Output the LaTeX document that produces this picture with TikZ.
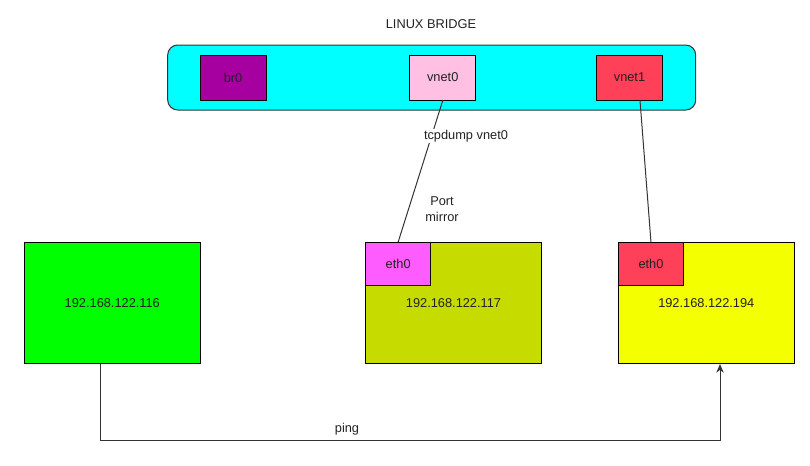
\documentclass[tikz,border=0pt]{standalone}
\usepackage{fontspec}
\setmainfont{Liberation Sans}
\usetikzlibrary{arrows.meta,calc}
\definecolor{cbridge}{RGB}{0,255,255}
\definecolor{cbr}{RGB}{166,0,160}
\definecolor{cvnetz}{RGB}{255,192,227}
\definecolor{cred}{RGB}{255,64,88}
\definecolor{cgreen}{RGB}{0,255,0}
\definecolor{colive}{RGB}{198,220,0}
\definecolor{cpink}{RGB}{255,92,255}
\definecolor{cyellow}{RGB}{244,255,0}
\definecolor{ctext}{HTML}{222222}
\definecolor{cline}{HTML}{333333}
\tikzset{
  every node/.style={font=\fontsize{9.6pt}{11.5pt}\selectfont, text=ctext},
  boxstyle/.style={draw=black, line width=0.75pt, inner sep=0pt},
  ifbox/.style={boxstyle, minimum width=49.5pt, minimum height=33.75pt},
  hostbox/.style={boxstyle, minimum width=132pt, minimum height=90.75pt},
  ethbox/.style={boxstyle, minimum width=49pt, minimum height=32.25pt, anchor=north west},
  conn/.style={draw=cline, line width=0.75pt},
  edgelabel/.style={fill=white, inner sep=1pt},
}
\begin{document}
\begin{tikzpicture}[x=0.75pt,y=-0.75pt]
\useasboundingbox (0,0) rectangle (810,465);
\node (title) at (431,24) {LINUX BRIDGE};
\node[boxstyle, fill=cbridge, draw=black!80, rounded corners=7.5pt, minimum width=396pt, minimum height=48.75pt] (bridge) at (431.7,77.5) {};
\node[ifbox, fill=cbr] (br0) at (233,77.5) {br0};
\node[ifbox, fill=cvnetz] (vnet0) at (442.75,77.5) {vnet0};
\node[ifbox, fill=cred] (vnet1) at (629.5,77.5) {vnet1};
\node[hostbox, fill=cgreen] (h116) at (112.3,303) {192.168.122.116};
\node[hostbox, fill=colive] (h117) at (453.5,303) {192.168.122.117};
\node[hostbox, fill=cyellow] (h194) at (706.3,303) {192.168.122.194};
\node[ethbox, fill=cpink] (eth117) at (h117.north west) {eth0};
\node[ethbox, fill=cred] (eth194) at (h194.north west) {eth0};
\draw[conn] (vnet0.south) -- (eth117.north);
\draw[conn] ($(vnet1.south)+(10.5,0)$) -- (eth194.north);
\node[edgelabel] (tcp) at (466,136) {tcpdump vnet0};
\node[align=center] (mirror) at (442,209) {Port\\mirror};
\coordinate (p1) at (100,440);
\coordinate (p2) at (720,440);
\draw[conn, -{Stealth[length=6.5pt,width=5.5pt]}] (h116.south -| p1) -- (p1) -- (p2) -- (p2 |- h194.south);
\node (ping) at (347,429) {ping};
\end{tikzpicture}
\end{document}
